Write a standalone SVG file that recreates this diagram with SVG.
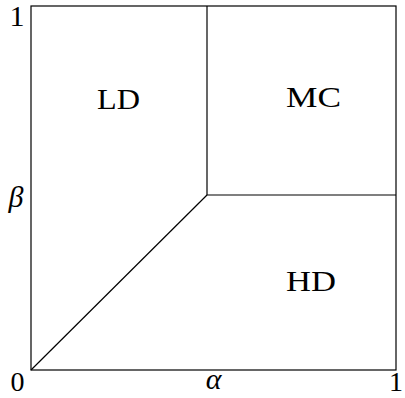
<svg xmlns="http://www.w3.org/2000/svg" width="405" height="398" viewBox="0 0 405 398">
<style>
.ln{stroke:#000;stroke-width:1.2;fill:none}
text{font-family:"Liberation Serif","DejaVu Serif",serif;font-size:30px;fill:#000}
.it{font-style:italic}
.num{font-size:28px}
</style>
<rect width="405" height="398" fill="#fff"/>
<g id="connectors">
<rect class="ln" x="31" y="6" width="365" height="364"/>
<line class="ln" x1="207" y1="6" x2="207" y2="195"/>
<line class="ln" x1="207" y1="195" x2="396" y2="195"/>
<line class="ln" x1="31" y1="370" x2="207" y2="195"/>
</g>
<g id="LD"><text x="118.5" y="109" text-anchor="middle" textLength="43" lengthAdjust="spacingAndGlyphs">LD</text></g>
<g id="MC"><text x="313.5" y="107" text-anchor="middle" textLength="55" lengthAdjust="spacingAndGlyphs">MC</text></g>
<g id="HD"><text x="311" y="291" text-anchor="middle" textLength="50" lengthAdjust="spacingAndGlyphs">HD</text></g>
<g id="axes">
<text x="17" y="26" text-anchor="middle">1</text>
<text class="num" x="17.5" y="391" text-anchor="middle">0</text>
<text class="num" x="396" y="391" text-anchor="middle">1</text>
<text class="it" x="213.5" y="389" text-anchor="middle" font-size="32">α</text>
<text class="it" x="16" y="207" text-anchor="middle" font-size="32">β</text>
</g>
</svg>
